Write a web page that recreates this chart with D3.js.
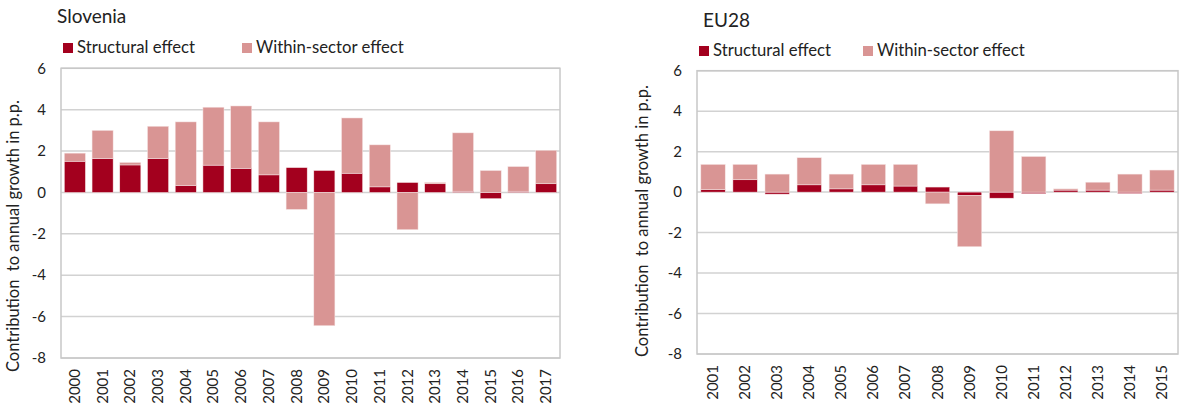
<!DOCTYPE html>
<html>
<head>
<meta charset="utf-8">
<script src="https://cdn.jsdelivr.net/npm/d3@7"></script>
<style>
  body { margin: 0; background: #fff; }
  svg { display: block; font-family: Lato, "Open Sans", sans-serif; }
</style>
</head>
<body>
<svg id="chart" width="1184" height="409"></svg>
<script>
// values, in percentage points

const sloYears = ["2000","2001","2002","2003","2004","2005","2006","2007","2008","2009",
                  "2010","2011","2012","2013","2014","2015","2016","2017"];
const sloStructural = [1.51, 1.64, 1.33, 1.64, 0.34, 1.32, 1.17, 0.85, 1.20, 1.06,
                       0.93, 0.27, 0.48, 0.42, 0.06, -0.30, 0.06, 0.42];
const sloWithin = [0.39, 1.36, 0.12, 1.56, 3.07, 2.80, 3.01, 2.56, -0.82, -6.44,
                   2.67, 2.03, -1.80, 0.06, 2.82, 1.06, 1.19, 1.62];

const euYears = ["2001","2002","2003","2004","2005","2006","2007","2008","2009",
                 "2010","2011","2012","2013","2014","2015"];
const euStructural = [0.12, 0.61, -0.10, 0.36, 0.16, 0.36, 0.30, 0.25, -0.16,
                      -0.30, -0.08, 0.10, 0.10, -0.07, 0.10];
const euWithin = [1.25, 0.76, 0.89, 1.34, 0.73, 1.01, 1.07, -0.58, -2.54,
                  3.03, 1.76, 0.06, 0.39, 0.89, 0.99];

const yTicks = [6, 4, 2, 0, -2, -4, -6, -8];
const seriesNames = ["Structural effect", "Within-sector effect"];
const colors = ["#a3001e", "#d99594"];
const axisTitle = "Contribution\u00a0 to annual growth in p.p.";

const svg = d3.select("#chart");

// one panel per country
function drawPanel(p) {
    const g = svg.append("g");

    const rows = p.years.map((yr, i) => ({ year: yr, s: p.structural[i], w: p.within[i] }));
    const stacked = d3.stack().keys(["s", "w"]).offset(d3.stackOffsetDiverging)(rows);

    const x = d3.scaleBand().domain(p.years).range([p.left, p.right]).paddingInner(0.24).paddingOuter(0.12);
    const y = d3.scaleLinear().domain([-8, 6]).range([p.bottom, p.top]);

    // gridlines
    g.selectAll("line.grid")
        .data(yTicks)
        .enter()
        .append("line")
        .attr("x1", p.left).attr("x2", p.right)
        .attr("y1", d => y(d)).attr("y2", d => y(d))
        .style("stroke", "#d2d2d2")
        .style("stroke-width", 1.5);

    // plot frame
    g.append("rect")
        .attr("x", p.left).attr("y", p.top)
        .attr("width", p.right - p.left).attr("height", p.bottom - p.top)
        .style("fill", "none")
        .style("stroke", "#c8c8c8")
        .style("stroke-width", 1.5);

    // bars
    stacked.forEach((layer, k) => {
        g.append("g").selectAll("rect")
            .data(layer)
            .enter()
            .append("rect")
            .attr("x", d => x(d.data.year))
            .attr("width", x.bandwidth())
            .attr("y", d => y(d[1]))
            .attr("height", d => Math.max(0, y(d[0]) - y(d[1])))
            .style("fill", colors[k])
            .style("stroke", "#f6e6e6")
            .style("stroke-width", 0.5);
    });

    // y tick labels
    g.selectAll("text.ytick")
        .data(yTicks)
        .enter()
        .append("text")
        .attr("x", p.left - 15)
        .attr("y", d => y(d))
        .attr("dy", "0.35em")
        .attr("text-anchor", "end")
        .style("font-size", "15px")
        .style("fill", "#222")
        .text(d => d);

    // x labels, rotated
    g.selectAll("text.xtick")
        .data(p.years)
        .enter()
        .append("text")
        .attr("transform", d => `translate(${x(d) + x.bandwidth() / 2 + 5},${p.bottom + 11}) rotate(-90)`)
        .attr("text-anchor", "end")
        .style("font-size", "15px")
        .style("fill", "#222")
        .text(d => d);

    // axis title
    g.append("text")
        .attr("transform", `translate(${p.titleX},${p.titleY}) rotate(-90)`)
        .attr("text-anchor", "start")
        .style("font-size", "16.5px")
        .style("fill", "#222")
        .text(axisTitle);

    // panel title
    g.append("text")
        .attr("x", p.nameX).attr("y", p.nameY)
        .style("font-size", "19px")
        .style("fill", "#222")
        .text(p.name);

    // legend
    seriesNames.forEach((nm, k) => {
        g.append("rect")
            .attr("x", p.legX[k]).attr("y", p.legY - 10)
            .attr("width", 10).attr("height", 10)
            .style("fill", colors[k]);
        g.append("text")
            .attr("x", p.legX[k] + 14).attr("y", p.legY)
            .style("font-size", "16.7px")
            .style("fill", "#222")
            .text(nm);
    });
}

drawPanel({
    name: "Slovenia", years: sloYears, structural: sloStructural, within: sloWithin,
    left: 61, right: 560, top: 68.3, bottom: 358,
    titleX: 19, titleY: 372, nameX: 57, nameY: 23,
    legX: [63, 242], legY: 53
});

drawPanel({
    name: "EU28", years: euYears, structural: euStructural, within: euWithin,
    left: 697, right: 1178, top: 70.7, bottom: 354,
    titleX: 648, titleY: 357, nameX: 703, nameY: 27,
    legX: [699, 863], legY: 56
});
</script>
</body>
</html>
